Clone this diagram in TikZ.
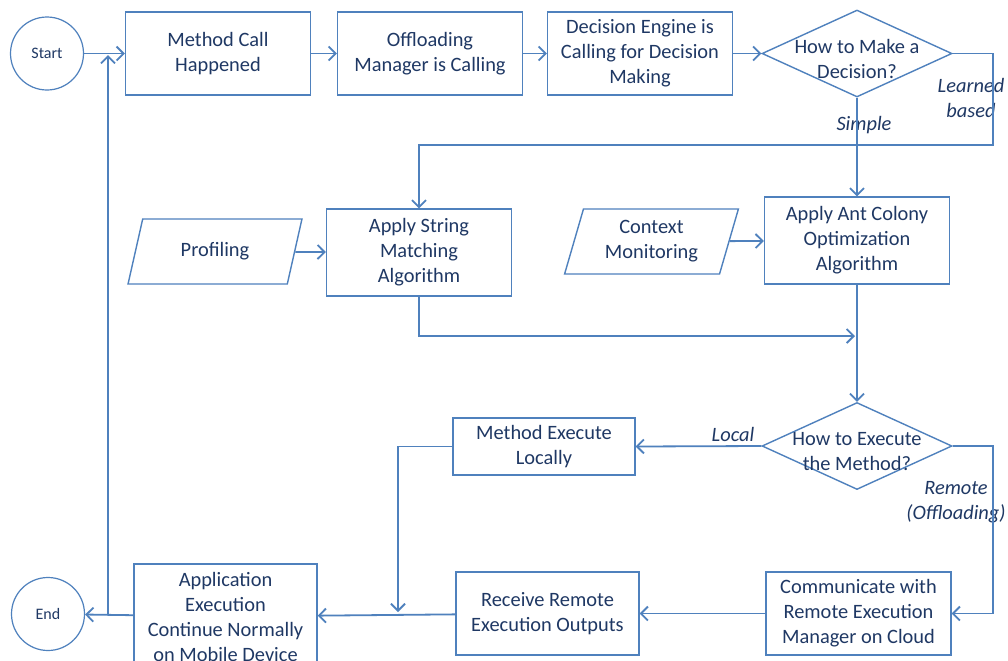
\documentclass[tikz,border=0pt]{standalone}
\usepackage{fontspec}
\setmainfont{Carlito}
\usetikzlibrary{arrows.meta, shapes.geometric}

\definecolor{boxline}{RGB}{79,129,189}
\definecolor{navy}{RGB}{31,56,100}

\begin{document}
\begin{tikzpicture}[x = .5pt, y = -.5pt, > = {Straight Barb[length = 3.5pt, width = 7pt]}, line width = .9pt, color = boxline,
    every node/.style = {text = navy, font = \fontsize{10.2}{12.5}\selectfont, align = center},
    box/.style = {draw = boxline, fill = white, line width = .7pt, minimum width = 92.5pt, minimum height = 41.5pt},
    term/.style = {circle, draw = boxline, line width = .6pt, minimum size = 36.5pt, font = \fontsize{8}{9.6}\selectfont},
    dia/.style = {diamond, draw = boxline, line width = .7pt, minimum width = 95pt, minimum height = 43.5pt, inner sep = 0pt},
    para/.style = {trapezium, trapezium left angle = 75, trapezium right angle = 105, trapezium stretches = true,
        draw = boxline, line width = .7pt, minimum width = 87pt, minimum height = 32.5pt},
    lbl/.style = {font = \fontsize{10.2}{12.5}\selectfont\itshape}]
    \useasboundingbox (0, 0) rectangle (1008, 660);
    \clip (0, 0) rectangle (1008, 660);
    \fill[white] (0, 0) rectangle (1008, 660);

    \node[term] (start) at (47, 53.5) {Start};
    \node[box] (call) at (218, 53.5) {Method Call\\Happened};
    \node[box] (mgr) at (430, 53.5) {Offloading\\Manager is Calling};
    \node[box] (eng) at (640, 53.5) {Decision Engine is\\Calling for Decision\\Making};
    \node[dia] (q1) at (857, 53.5) {};
    \node (q1t) at (857, 59) {How to Make a\\Decision?};

    \node[para] (prof) at (215, 251.5) {Profiling};
    \node[box, minimum height = 43.5pt] (str) at (419, 252.5) {Apply String\\Matching\\Algorithm};
    \node[para] (ctx) at (651.5, 241.5) {Context\\Monitoring};
    \node[box, minimum height = 43.5pt] (aco) at (857, 240.5) {Apply Ant Colony\\Optimization\\Algorithm};

    \node[dia] (q2) at (857, 446) {};
    \node (q2t) at (857, 452) {How to Execute\\the Method?};
    \node[box, minimum width = 91pt, minimum height = 28.5pt] (loc) at (544, 446.5) {Method Execute\\Locally};

    \node[box] (comm) at (858.5, 613.5) {Communicate with\\Remote Execution\\Manager on Cloud};
    \node[box, minimum width = 91.5pt] (recv) at (547.5, 613.5) {Receive Remote\\Execution Outputs};
    \node[box, minimum width = 91.5pt, minimum height = 52.5pt] (app) at (225.5, 616.5) {Application\\Execution\\Continue Normally\\on Mobile Device};
    \node[term] (stop) at (48, 614) {End};

    \node[lbl] (lsimple) at (864, 125) {Simple};
    \node[lbl] (llearn) at (971, 97.5) {Learned\\based};
    \node[lbl] (llocal) at (733, 434) {Local};
    \node[lbl] (lremote) at (956, 502) {Remote\\(Offloading)};

    \coordinate (c1) at (993, 145);
    \coordinate (c2) at (855, 336);
    \coordinate (c3) at (398, 612);
    \coordinate (c4) at (993, 613.5);
    \coordinate (c5) at (108, 614);
    \coordinate (c6) at (108, 55);

    \draw[->] (start) -- (call);
    \draw[->] (call) -- (mgr);
    \draw[->] (mgr) -- (eng);
    \draw[->] (eng) -- (q1);
    \draw[->] (q1.east) -| (c1) -| (str.north);
    \draw[->] (q1.south) -- (aco.north);
    \draw[->] (prof) -- (str);
    \draw[->] (ctx) -- (aco);
    \draw[->] (str.south) |- (c2);
    \draw[->] (aco.south) -- (q2.north);
    \draw[->] (q2.west) -- (loc.east);
    \draw[->] (loc.west) -| (c3);
    \draw[->] (q2.east) -| (c4) -- (comm.east);
    \draw[->] (comm) -- (recv);
    \draw[->] (recv) -- (app);
    \draw[->] (app) -- (stop);
    \draw[->] (c5) -- (c6);
    %\draw[->] (stop) -- (start);
\end{tikzpicture}
\end{document}
